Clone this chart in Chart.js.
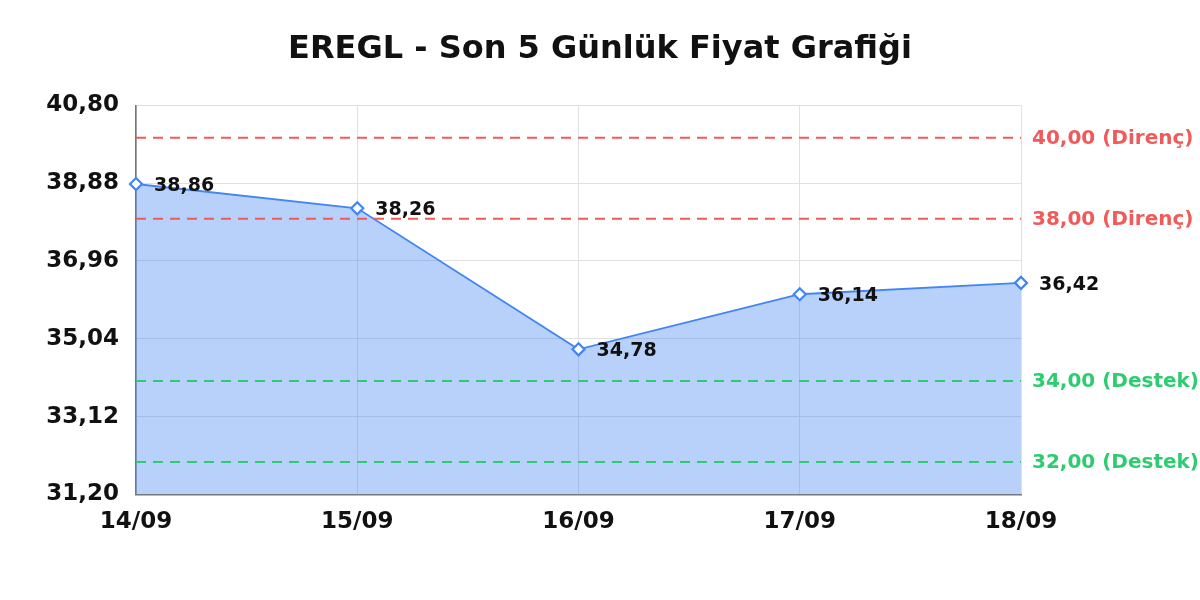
<!DOCTYPE html>
<html>
<head>
<meta charset="utf-8">
<script src="https://cdn.jsdelivr.net/npm/chart.js@4/dist/chart.umd.min.js"></script>
<style>
  html, body { margin: 0; padding: 0; background: #fff; }
  #wrap { width: 1200px; height: 600px; }
</style>
</head>
<body>
<div id="wrap"><canvas id="priceChart"></canvas></div>
<script>
const labels = ["14/09", "15/09", "16/09", "17/09", "18/09"];
const prices = [38.86, 38.26, 34.78, 36.14, 36.42];
const yTicks = [31.20, 33.12, 35.04, 36.96, 38.88, 40.80];
const resistance = [40.00, 38.00];
const support = [34.00, 32.00];

const FONT = "'DejaVu Sans', sans-serif";
const BLUE = "#4285f4";
const RED = "#f05a5a";
const GREEN = "#2ecc71";

function fmt(v) {
   return v.toFixed(2).replace(".", ",");
}

// dashed support/resistance lines and point labels
const extras = {
   id: "extras",
   afterDatasetsDraw(chart) {
      const ctx = chart.ctx;
      const area = chart.chartArea;
      const y = chart.scales.y;

      function level(value, color, text) {
         const py = y.getPixelForValue(value);
         ctx.save();
         ctx.strokeStyle = color;
         ctx.lineWidth = 2;
         ctx.setLineDash([10, 7]);
         ctx.beginPath();
         ctx.moveTo(area.left, py);
         ctx.lineTo(area.right, py);
         ctx.stroke();
         ctx.setLineDash([]);
         ctx.fillStyle = color;
         ctx.font = "bold 20px " + FONT;
         ctx.textAlign = "left";
         ctx.textBaseline = "middle";
         ctx.fillText(fmt(value) + " (" + text + ")", area.right + 11, py + 1);
         ctx.restore();
      }
      resistance.forEach((v) => level(v, RED, "Direnç"));
      support.forEach((v) => level(v, GREEN, "Destek"));

      const meta = chart.getDatasetMeta(0);
      ctx.save();
      ctx.fillStyle = "#111";
      ctx.font = "bold 19px " + FONT;
      ctx.textAlign = "left";
      ctx.textBaseline = "middle";
      meta.data.forEach((pt, i) => {
         ctx.fillText(fmt(prices[i]), pt.x + 18, pt.y + 2);
      });
      ctx.restore();
   },
};

new Chart(document.getElementById("priceChart"), {
   type: "line",
   data: {
      labels: labels,
      datasets: [
         {
            data: prices,
            borderColor: BLUE,
            borderWidth: 1.8,
            backgroundColor: "rgba(66,133,244,0.38)",
            fill: "start",
            tension: 0,
            pointStyle: "rectRot",
            pointRadius: 6,
            pointBorderWidth: 2.2,
            pointBackgroundColor: "#fff",
            pointBorderColor: BLUE,
         },
      ],
   },
   options: {
      responsive: true,
      maintainAspectRatio: false,
      animation: false,
      layout: {
         padding: { left: 0, right: 0, top: 0, bottom: 50 },
      },
      plugins: {
         legend: { display: false },
         tooltip: { enabled: false },
         title: {
            display: true,
            text: "EREGL - Son 5 Günlük Fiyat Grafiği",
            color: "#111",
            font: { family: FONT, size: 32, weight: "bold" },
            padding: { top: 30, bottom: 37 },
         },
      },
      scales: {
         x: {
            offset: false,
            grid: { color: "#e0e0e0", drawTicks: false },
            border: { color: "#777", width: 1.6 },
            ticks: {
               color: "#111",
               padding: 14,
               maxRotation: 0,
               font: { family: FONT, size: 23, weight: "bold" },
            },
         },
         y: {
            min: 31.2,
            max: 40.8,
            afterBuildTicks: (axis) => {
               axis.ticks = yTicks.map((v) => ({ value: v }));
            },
            afterFit: (axis) => {
               axis.width = 136;
            },
            grid: { color: "#e0e0e0", drawTicks: false },
            border: { color: "#777", width: 1.6 },
            ticks: {
               color: "#111",
               padding: 17,
               font: { family: FONT, size: 23, weight: "bold" },
               callback: (v) => fmt(v),
            },
         },
         // empty right axis, only reserves room for the level labels
         side: {
            position: "right",
            display: true,
            min: 31.2,
            max: 40.8,
            grid: { display: false },
            border: { display: false },
            ticks: { display: false },
            afterFit: (axis) => {
               axis.width = 179;
            },
         },
      },
   },
   plugins: [extras],
});
</script>
</body>
</html>
